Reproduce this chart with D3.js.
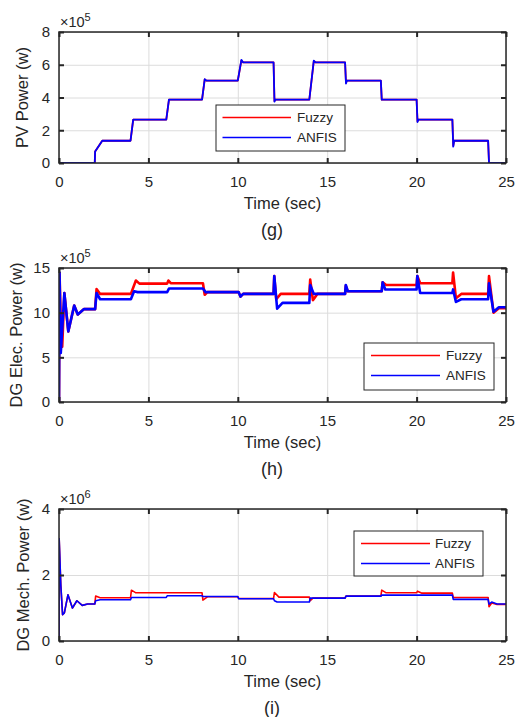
<!DOCTYPE html>
<html>

<head>
  <meta charset="utf-8">
  <title>PV / DG power: Fuzzy vs ANFIS</title>
  <style>
    body { margin: 0; background: #fff; }
    text { font-family: "Liberation Sans", Arial, sans-serif; fill: #262626; }
  </style>
</head>

<body>
  <svg width="515" height="717"></svg>
  <script src="https://d3js.org/d3.v7.min.js"></script>
  <script>
    // shared axis ticks
    var timeTicks = [0, 5, 10, 15, 20, 25];
    var seriesNames = ["Fuzzy", "ANFIS"];
    var seriesColors = ["#ff0000", "#0000ff"];

    // (g) PV power, x10^5 W
    var pvTime = [0, 2.0, 2.02, 2.42, 4.0, 4.15, 6.0, 6.15, 8.0, 8.15, 8.25, 10.0, 10.2, 10.3, 12.0, 12.05, 12.1,
      14.0, 14.25, 14.35, 16.0, 16.05, 16.1, 18.0, 18.05, 20.0, 20.05, 20.1, 22.0, 22.05, 22.1, 24.0, 24.05, 25];
    var pvFuzzy = [0, 0, 0.7, 1.36, 1.36, 2.65, 2.65, 3.87, 3.87, 5.1, 5.03, 5.03, 6.25, 6.14, 6.14, 3.78, 3.87,
      3.87, 6.22, 6.14, 6.14, 4.9, 5.03, 5.03, 3.87, 3.87, 2.55, 2.65, 2.65, 1.05, 1.36, 1.36, 0, 0];
    var pvAnfis = [0, 0, 0.7, 1.36, 1.36, 2.65, 2.65, 3.87, 3.87, 5.12, 5.03, 5.03, 6.3, 6.14, 6.14, 3.75, 3.87,
      3.87, 6.25, 6.14, 6.14, 4.85, 5.03, 5.03, 3.87, 3.87, 2.5, 2.65, 2.65, 1.0, 1.36, 1.36, 0, 0];
    var pvTicks = [0, 2, 4, 6, 8];

    // (h) DG electrical power, x10^5 W
    var elecFuzzyTime = [0, 0.03, 0.08, 0.18, 0.3, 0.52, 0.85, 1.05, 1.4, 2.02, 2.1, 2.3, 4.02, 4.3, 4.5, 6.05,
      6.12, 6.25, 8.05, 8.15, 8.3, 10.05, 10.15, 10.3, 12.0, 12.04, 12.15, 12.4, 14.0, 14.05, 14.2, 14.45, 16.0,
      16.04, 16.15, 18.05, 18.1, 18.3, 20.0, 20.04, 20.2, 22.0, 22.04, 22.2, 22.5, 24.0, 24.05, 24.3, 24.6, 25];
    var elecFuzzy = [0, 14.4, 10.5, 6.2, 12.2, 7.9, 10.8, 9.8, 10.4, 10.4, 12.65, 12.1, 12.1, 13.6, 13.25, 13.25,
      13.6, 13.3, 13.3, 12.0, 12.3, 12.3, 11.8, 12.1, 12.1, 14.1, 11.5, 12.1, 12.1, 13.7, 11.4, 12.1, 12.1,
      13.0, 12.4, 12.4, 13.4, 13.1, 13.1, 14.1, 13.3, 13.3, 14.5, 11.6, 12.1, 12.1, 14.1, 10.0, 10.5, 10.5];
    var elecAnfisTime = [0, 0.03, 0.1, 0.3, 0.52, 0.85, 1.05, 1.4, 2.02, 2.1, 2.3, 4.02, 4.2, 4.4, 6.05, 6.15,
      8.05, 8.2, 10.05, 10.15, 10.3, 12.0, 12.04, 12.2, 12.5, 14.0, 14.05, 14.25, 16.0, 16.04, 16.15, 18.05,
      18.1, 18.25, 20.0, 20.04, 20.2, 22.0, 22.04, 22.2, 22.5, 24.0, 24.05, 24.3, 24.6, 25];
    var elecAnfis = [0, 14.5, 5.5, 12.2, 7.9, 10.8, 9.8, 10.4, 10.4, 12.2, 11.5, 11.5, 12.4, 12.3, 12.3, 12.7,
      12.7, 12.3, 12.3, 11.8, 12.1, 12.1, 14.1, 10.45, 11.1, 11.1, 13.1, 12.1, 12.1, 13.1, 12.4, 12.4,
      13.4, 12.6, 12.6, 14.1, 12.2, 12.2, 12.6, 11.2, 11.5, 11.5, 13.3, 10.1, 10.6, 10.6];
    var elecTicks = [0, 5, 10, 15];

    // (i) DG mechanical power, x10^6 W
    var mechFuzzyTime = [0, 0.01, 0.1, 0.2, 0.3, 0.5, 0.75, 1.0, 1.3, 1.6, 2.0, 2.05, 2.3, 4.0, 4.05, 4.3, 8.0,
      8.05, 8.3, 10.0, 10.05, 12.0, 12.05, 12.3, 14.0, 14.05, 14.2, 16.0, 16.05, 18.0, 18.05, 18.3, 20.0, 20.05,
      20.3, 22.0, 22.05, 24.0, 24.05, 24.2, 24.5, 25];
    var mechFuzzy = [0, 3.1, 1.7, 0.8, 0.85, 1.4, 1.0, 1.22, 1.08, 1.12, 1.12, 1.36, 1.31, 1.31, 1.54, 1.46, 1.46,
      1.24, 1.34, 1.34, 1.29, 1.29, 1.47, 1.33, 1.33, 1.22, 1.3, 1.3, 1.36, 1.36, 1.54, 1.46, 1.46, 1.51,
      1.45, 1.45, 1.32, 1.32, 1.04, 1.15, 1.11, 1.11];
    var mechAnfisTime = [0, 0.01, 0.1, 0.2, 0.3, 0.5, 0.75, 1.0, 1.3, 1.6, 2.0, 2.05, 2.3, 4.0, 4.05, 6.0, 6.05,
      8.0, 8.05, 10.0, 10.05, 12.0, 12.05, 12.2, 14.0, 14.05, 16.0, 16.05, 18.0, 18.05, 22.0, 22.05, 24.0,
      24.05, 24.2, 24.5, 25];
    var mechAnfis = [0, 3.1, 1.7, 0.8, 0.85, 1.4, 1.0, 1.22, 1.08, 1.12, 1.12, 1.22, 1.25, 1.25, 1.32, 1.32, 1.37,
      1.37, 1.35, 1.35, 1.28, 1.28, 1.22, 1.18, 1.18, 1.3, 1.3, 1.36, 1.36, 1.39, 1.39, 1.26, 1.26, 1.12,
      1.18, 1.12, 1.12];
    var mechTicks = [0, 2, 4];

    var svg = d3.select("svg");
    var left = 59, right = 506;

    var panels = [
      {
        id: "g", top: 32, bottom: 163, yMax: 8, yTicks: pvTicks, exp: "5", ylabel: "PV Power (w)", ylabelX: 28,
        series: [[pvTime, pvFuzzy], [pvTime, pvAnfis]], width: 1.8,
        legend: { x: 216, y: 105, w: 129, h: 46, line0: 222.5, line1: 291, textX: 297 }
      },
      {
        id: "h", top: 268, bottom: 402, yMax: 15, yTicks: elecTicks, exp: "5", ylabel: "DG Elec. Power (w)", ylabelX: 21.5,
        series: [[elecFuzzyTime, elecFuzzy], [elecAnfisTime, elecAnfis]], width: 2.6,
        legend: { x: 364, y: 343, w: 130, h: 47, line0: 371, line1: 440, textX: 446 }
      },
      {
        id: "i", top: 509, bottom: 641, yMax: 4, yTicks: mechTicks, exp: "6", ylabel: "DG Mech. Power (w)", ylabelX: 29,
        series: [[mechFuzzyTime, mechFuzzy], [mechAnfisTime, mechAnfis]], width: 1.6,
        legend: { x: 354, y: 531, w: 129, h: 45, line0: 361, line1: 430, textX: 435 }
      }
    ];

    var x = d3.scaleLinear().domain([0, 25]).range([left, right]);

    panels.forEach(function (p) {
      var y = d3.scaleLinear().domain([0, p.yMax]).range([p.bottom, p.top]);
      var g = svg.append("g");

      // grid
      g.append("g")
        .attr("transform", "translate(0," + p.bottom + ")")
        .call(d3.axisBottom(x).tickValues(timeTicks).tickSize(-(p.bottom - p.top)).tickFormat(""))
        .call(function (s) {
          s.select(".domain").remove();
          s.selectAll("line").attr("stroke", "#dcdcdc");
        });
      g.append("g")
        .attr("transform", "translate(" + left + ",0)")
        .call(d3.axisLeft(y).tickValues(p.yTicks).tickSize(-(right - left)).tickFormat(""))
        .call(function (s) {
          s.select(".domain").remove();
          s.selectAll("line").attr("stroke", "#dcdcdc");
        });

      // data lines
      var clipId = "clip-" + p.id;
      g.append("clipPath").attr("id", clipId)
        .append("rect").attr("x", left).attr("y", p.top - 1)
        .attr("width", right - left).attr("height", p.bottom - p.top + 1);

      var line = d3.line()
        .x(function (d) { return x(d[0]); })
        .y(function (d) { return y(d[1]); });

      p.series.forEach(function (s, k) {
        var pts = s[0].map(function (t, j) { return [t, s[1][j]]; });
        g.append("path")
          .datum(pts)
          .attr("clip-path", "url(#" + clipId + ")")
          .attr("fill", "none")
          .attr("stroke", seriesColors[k])
          .attr("stroke-width", p.width)
          .attr("stroke-linejoin", "round")
          .attr("d", line);
      });

      // axes with inward ticks on all four sides
      function styleAxis(s) {
        s.select(".domain").remove();
        s.selectAll("line").attr("stroke", "#262626").attr("stroke-width", 2);
        s.selectAll("text").style("font-size", "15px").attr("fill", "#262626")
          .style("font-family", "'Liberation Sans', Arial, sans-serif");
      }
      g.append("g")
        .attr("transform", "translate(0," + p.bottom + ")")
        .call(d3.axisBottom(x).tickValues(timeTicks).tickSize(-5).tickPadding(13).tickFormat(d3.format("d")))
        .call(styleAxis);
      g.append("g")
        .attr("transform", "translate(0," + p.top + ")")
        .call(d3.axisTop(x).tickValues(timeTicks).tickSize(-5).tickFormat(""))
        .call(styleAxis);
      g.append("g")
        .attr("transform", "translate(" + left + ",0)")
        .call(d3.axisLeft(y).tickValues(p.yTicks).tickSize(-5).tickPadding(9).tickFormat(d3.format("d")))
        .call(styleAxis);
      g.append("g")
        .attr("transform", "translate(" + right + ",0)")
        .call(d3.axisRight(y).tickValues(p.yTicks).tickSize(-5).tickFormat(""))
        .call(styleAxis);

      g.append("rect")
        .attr("x", left).attr("y", p.top)
        .attr("width", right - left).attr("height", p.bottom - p.top)
        .attr("fill", "none").attr("stroke", "#262626").attr("stroke-width", 1.5);

      // exponent label
      var ex = g.append("text").attr("x", left + 1).attr("y", p.top - 5).style("font-size", "14.5px");
      ex.append("tspan").text("\u00d710");
      ex.append("tspan").attr("dy", -6).style("font-size", "11px").text(p.exp);

      // axis titles
      g.append("text")
        .attr("transform", "translate(" + p.ylabelX + "," + ((p.top + p.bottom) / 2) + ") rotate(-90)")
        .attr("text-anchor", "middle")
        .style("font-size", "16.5px")
        .text(p.ylabel);
      g.append("text")
        .attr("x", (left + right) / 2).attr("y", p.bottom + 46)
        .attr("text-anchor", "middle")
        .style("font-size", "16.5px")
        .text("Time (sec)");
      g.append("text")
        .attr("x", 272).attr("y", p.bottom + 73)
        .attr("text-anchor", "middle")
        .style("font-size", "18px")
        .text("(" + p.id + ")");

      // legend
      var L = p.legend;
      var lg = g.append("g");
      lg.append("rect")
        .attr("x", L.x).attr("y", L.y).attr("width", L.w).attr("height", L.h)
        .attr("fill", "#fff").attr("stroke", "#262626").attr("stroke-width", 1);
      seriesNames.forEach(function (name, k) {
        var ly = L.y + 12.5 + k * 20;
        lg.append("line")
          .attr("x1", L.line0).attr("x2", L.line1).attr("y1", ly).attr("y2", ly)
          .attr("stroke", seriesColors[k]).attr("stroke-width", 1.5);
        lg.append("text")
          .attr("x", L.textX).attr("y", ly)
          .attr("dy", "0.35em")
          .style("font-size", "13.5px")
          .text(name);
      });
    });
  </script>
</body>

</html>
